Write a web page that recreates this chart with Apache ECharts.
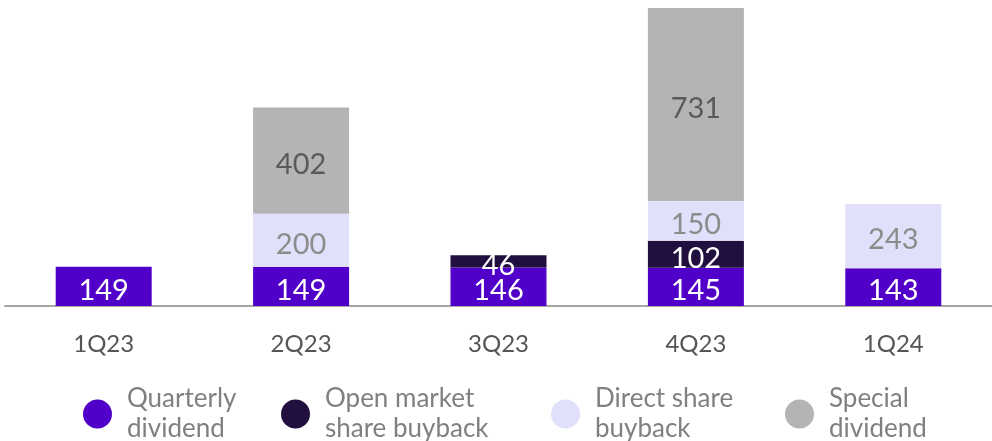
<!DOCTYPE html>
<html>
<head>
<meta charset="utf-8">
<script src="https://cdn.jsdelivr.net/npm/echarts@6/dist/echarts.min.js"></script>
<style>
  html, body { margin: 0; padding: 0; background: #fff; }
  #chart { width: 992px; height: 441px; }
</style>
</head>
<body>
<div id="chart"></div>
<script>
var quarters = ['1Q23', '2Q23', '3Q23', '4Q23', '1Q24'];
var quarterlyDividend = [149, 149, 146, 145, 143];
var openMarketBuyback = [null, null, 46, 102, null];
var directBuyback = [null, 200, null, 150, 243];
var specialDividend = [null, 402, null, 731, null];

var FONT = 'Lato';
var names = ['Quarterly dividend', 'Open market share buyback', 'Direct share buyback', 'Special dividend'];
var legendText = {
  'Quarterly dividend': 'Quarterly\ndividend',
  'Open market share buyback': 'Open market\nshare buyback',
  'Direct share buyback': 'Direct share\nbuyback',
  'Special dividend': 'Special\ndividend'
};
var colors = ['#5000c8', '#21103f', '#e0e0fa', '#b4b4b4'];
var labelColors = ['#ffffff', '#ffffff', '#8c8c8c', '#5a5a5a'];
var legendLeft = [83, 281, 551, 785];

var totals = quarters.map(function (q, i) {
  return [quarterlyDividend, openMarketBuyback, directBuyback, specialDividend]
    .reduce(function (s, arr) { return s + (arr[i] || 0); }, 0);
});

function makeSeries(name, data, idx) {
  return {
    name: name,
    type: 'bar',
    stack: 'total',
    barWidth: 96,
    data: data,
    itemStyle: { color: colors[idx] },
    label: {
      show: true,
      position: 'inside',
      offset: [0, 4],
      color: labelColors[idx],
      fontFamily: FONT,
      fontSize: 29
    }
  };
}

var chart = echarts.init(document.getElementById('chart'));
chart.setOption({
  animation: false,
  color: colors,
  grid: { left: 5, right: 0, top: 8, bottom: 135, containLabel: false },
  legend: names.map(function (n, i) {
    return {
      data: [n],
      left: legendLeft[i],
      top: 379,
      padding: 0,
      icon: 'circle',
      itemWidth: 29,
      itemHeight: 29,
      selectedMode: false,
      formatter: function (name) { return legendText[name]; },
      textStyle: {
        fontFamily: FONT,
        fontSize: 26,
        lineHeight: 30,
        color: '#808080',
        padding: [0, 0, 10, 10]
      }
    };
  }),
  xAxis: {
    type: 'category',
    data: quarters,
    axisTick: { show: false },
    axisLine: { lineStyle: { color: '#a6a6a6', width: 2 } },
    axisLabel: { color: '#555555', fontFamily: FONT, fontSize: 24, margin: 26 }
  },
  yAxis: {
    type: 'value',
    min: 0,
    max: Math.max.apply(null, totals),
    show: false,
    splitLine: { show: false }
  },
  series: [
    makeSeries(names[0], quarterlyDividend, 0),
    makeSeries(names[1], openMarketBuyback, 1),
    makeSeries(names[2], directBuyback, 2),
    makeSeries(names[3], specialDividend, 3)
  ]
});
</script>
</body>
</html>
